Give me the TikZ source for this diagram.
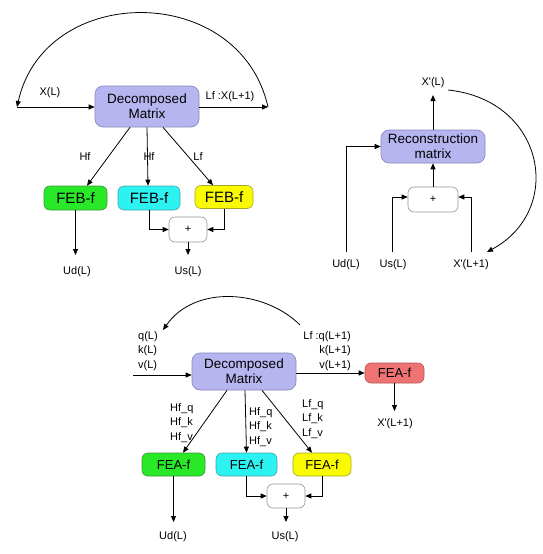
\documentclass[tikz,border=0pt]{standalone}
\usepackage{fontspec}
\setmainfont{Liberation Sans}
\usetikzlibrary{arrows.meta}
\definecolor{lav}{RGB}{183,181,240}
\definecolor{lavb}{RGB}{135,133,185}
\definecolor{gfill}{RGB}{40,232,40}
\definecolor{gbord}{RGB}{60,150,60}
\definecolor{cfill}{RGB}{45,242,242}
\definecolor{cbord}{RGB}{70,165,175}
\definecolor{yfill}{RGB}{250,250,0}
\definecolor{ybord}{RGB}{165,165,40}
\definecolor{rfill}{RGB}{240,115,115}
\definecolor{rbord}{RGB}{175,85,85}
\definecolor{pbord}{RGB}{150,150,150}
\tikzset{
  arr/.style={draw=black, line width=0.8pt, -{Triangle[length=6pt,width=5pt]}},
  bigbox/.style={draw=lavb, fill=lav, rounded corners=8pt, line width=0.6pt, align=center,
    font=\fontsize{13.5}{15}\selectfont, inner sep=0pt},
  febbox/.style={rounded corners=6pt, line width=0.6pt, inner sep=0pt, font=\fontsize{15}{17}\selectfont},
  feabox/.style={rounded corners=6pt, line width=0.6pt, inner sep=0pt, font=\fontsize{13}{15}\selectfont},
  plusbox/.style={draw=pbord, fill=white, rounded corners=6pt, line width=0.6pt, inner sep=0pt,
    font=\fontsize{11}{13}\selectfont},
  lbl/.style={inner sep=0pt, font=\fontsize{11}{14.5}\selectfont}
}
\begin{document}
\begin{tikzpicture}[x=1pt,y=-1pt]
\useasboundingbox (0,0) rectangle (542,554);
% ================= top left =================
\node[bigbox, minimum width=104pt, minimum height=41pt] (dm1) at (147,106.5) {Decomposed\\Matrix};
\node[febbox, draw=gbord, fill=gfill, minimum width=63pt, minimum height=24pt] (g1) at (75.5,198) {FEB-f};
\node[febbox, draw=cbord, fill=cfill, minimum width=62pt, minimum height=24pt] (c1) at (149,198) {FEB-f};
\node[febbox, draw=ybord, fill=yfill, minimum width=58pt, minimum height=23pt] (y1) at (224,197) {FEB-f};
\node[plusbox, minimum width=38pt, minimum height=25pt] (p1) at (188,229.5) {+};
\coordinate (in1) at (17,107);
\coordinate (out1) at (268,107);
\node[lbl] (xl1) at (50,93) {X(L)};
\node[lbl] (lf1) at (230,97) {Lf :X(L+1)};
\node[lbl] (hf1a) at (85,157) {Hf};
\node[lbl] (hf1b) at (149,157) {Hf};
\node[lbl] (lf1b) at (198,157) {Lf};
\node[lbl] (ud1) at (77,272) {Ud(L)};
\node[lbl] (us1) at (188,272) {Us(L)};
\coordinate (ud1a) at (75.5,255);
\coordinate (us1a) at (188,255);
\draw[arr] (in1) -- (in1 -| dm1.west);
\draw[arr] (out1 -| dm1.east) -- (out1);
\draw[arr] (out1) .. controls (240,-18) and (45,-18) .. (in1);
\draw[arr] ([xshift=-17pt]dm1.south) -- ([xshift=11.5pt]g1.north);
\draw[arr] (dm1.south) -- ([xshift=-1pt]c1.north);
\draw[arr] ([xshift=16pt]dm1.south) -- ([xshift=-11pt]y1.north);
\draw[arr] (g1.south) -- (ud1a);
\draw[arr] (c1.south) |- (p1.west);
\draw[arr] (y1.south) |- (p1.east);
\draw[arr] (p1.south) -- (us1a);
% ================= top right =================
\node[bigbox, minimum width=104pt, minimum height=33pt] (rm) at (433,146.5) {Reconstruction\\matrix};
\node[plusbox, minimum width=50pt, minimum height=25pt] (p2) at (433,199.5) {+};
\node[lbl] (xl2) at (433,83) {X\textquotesingle(L)};
\node[lbl] (ud2) at (346,265) {Ud(L)};
\node[lbl] (us2) at (393,265) {Us(L)};
\node[lbl] (xn2) at (471,265) {X\textquotesingle(L+1)};
\coordinate (xl2a) at (433,95);
\coordinate (ud2a) at (346,252);
\coordinate (us2a) at (392,252);
\coordinate (xn2a) at (471,252);
\coordinate (xl2c) at (448,90);
\coordinate (xn2c) at (487,252);
\draw[arr] (rm.north) -- (xl2a);
\draw[arr] (p2.north) -- (rm.south);
\draw[arr] (ud2a) |- (rm.west);
\draw[arr] (us2a) |- ([yshift=2.5pt]p2.west);
\draw[arr] (xn2a) |- ([yshift=2.5pt]p2.east);
\draw[arr] (xl2c) .. controls (545,100) and (565,210) .. (xn2c);
% ================= bottom =================
\node[bigbox, minimum width=104pt, minimum height=37pt] (dm3) at (244,371.5) {Decomposed\\Matrix};
\node[feabox, draw=rbord, fill=rfill, minimum width=59pt, minimum height=20pt] (r3) at (394.5,373) {FEA-f};
\node[feabox, draw=gbord, fill=gfill, minimum width=63pt, minimum height=23pt] (g3) at (173.5,464.5) {FEA-f};
\node[feabox, draw=cbord, fill=cfill, minimum width=61pt, minimum height=23pt] (c3) at (246.5,464.5) {FEA-f};
\node[feabox, draw=ybord, fill=yfill, minimum width=58pt, minimum height=23pt] (y3) at (322,464.5) {FEA-f};
\node[plusbox, minimum width=38pt, minimum height=24pt] (p3) at (286,496) {+};
\node[lbl, anchor=west, align=left] (qkv) at (138,351) {q(L)\\k(L)\\v(L)};
\node[lbl, anchor=east, align=right] (qkv1) at (351,351) {Lf :q(L+1)\\k(L+1)\\v(L+1)};
\node[lbl, anchor=west, align=left] (hfa) at (170,423) {Hf\_q\\Hf\_k\\Hf\_v};
\node[lbl, anchor=west, align=left] (hfb) at (249,427) {Hf\_q\\Hf\_k\\Hf\_v};
\node[lbl, anchor=west, align=left] (lfc) at (302,419) {Lf\_q\\Lf\_k\\Lf\_v};
\node[lbl] (xn3) at (395,424) {X\textquotesingle(L+1)};
\node[lbl] (ud3) at (173,537) {Ud(L)};
\node[lbl] (us3) at (285,537) {Us(L)};
\coordinate (in3) at (133,375);
\coordinate (xn3a) at (394.5,411);
\coordinate (ud3a) at (173.5,522);
\coordinate (us3a) at (286,522);
\coordinate (cs3) at (300,325);
\coordinate (ce3) at (163,330);
\draw[arr] (in3) -- (in3 -| dm3.west);
\draw[arr] (r3.west -| dm3.east) -- (r3.west);
\draw[arr] (cs3) .. controls (265,290) and (195,284) .. (ce3);
\draw[arr] (r3.south) -- (xn3a);
\draw[arr] ([xshift=-17pt]dm3.south) -- ([xshift=9.5pt]g3.north);
\draw[arr] ([xshift=1pt]dm3.south) -- (c3.north);
\draw[arr] ([xshift=18pt]dm3.south) -- ([xshift=-10pt]y3.north);
\draw[arr] (g3.south) -- (ud3a);
\draw[arr] (c3.south) |- (p3.west);
\draw[arr] (y3.south) |- (p3.east);
\draw[arr] (p3.south) -- (us3a);
\end{tikzpicture}
\end{document}
